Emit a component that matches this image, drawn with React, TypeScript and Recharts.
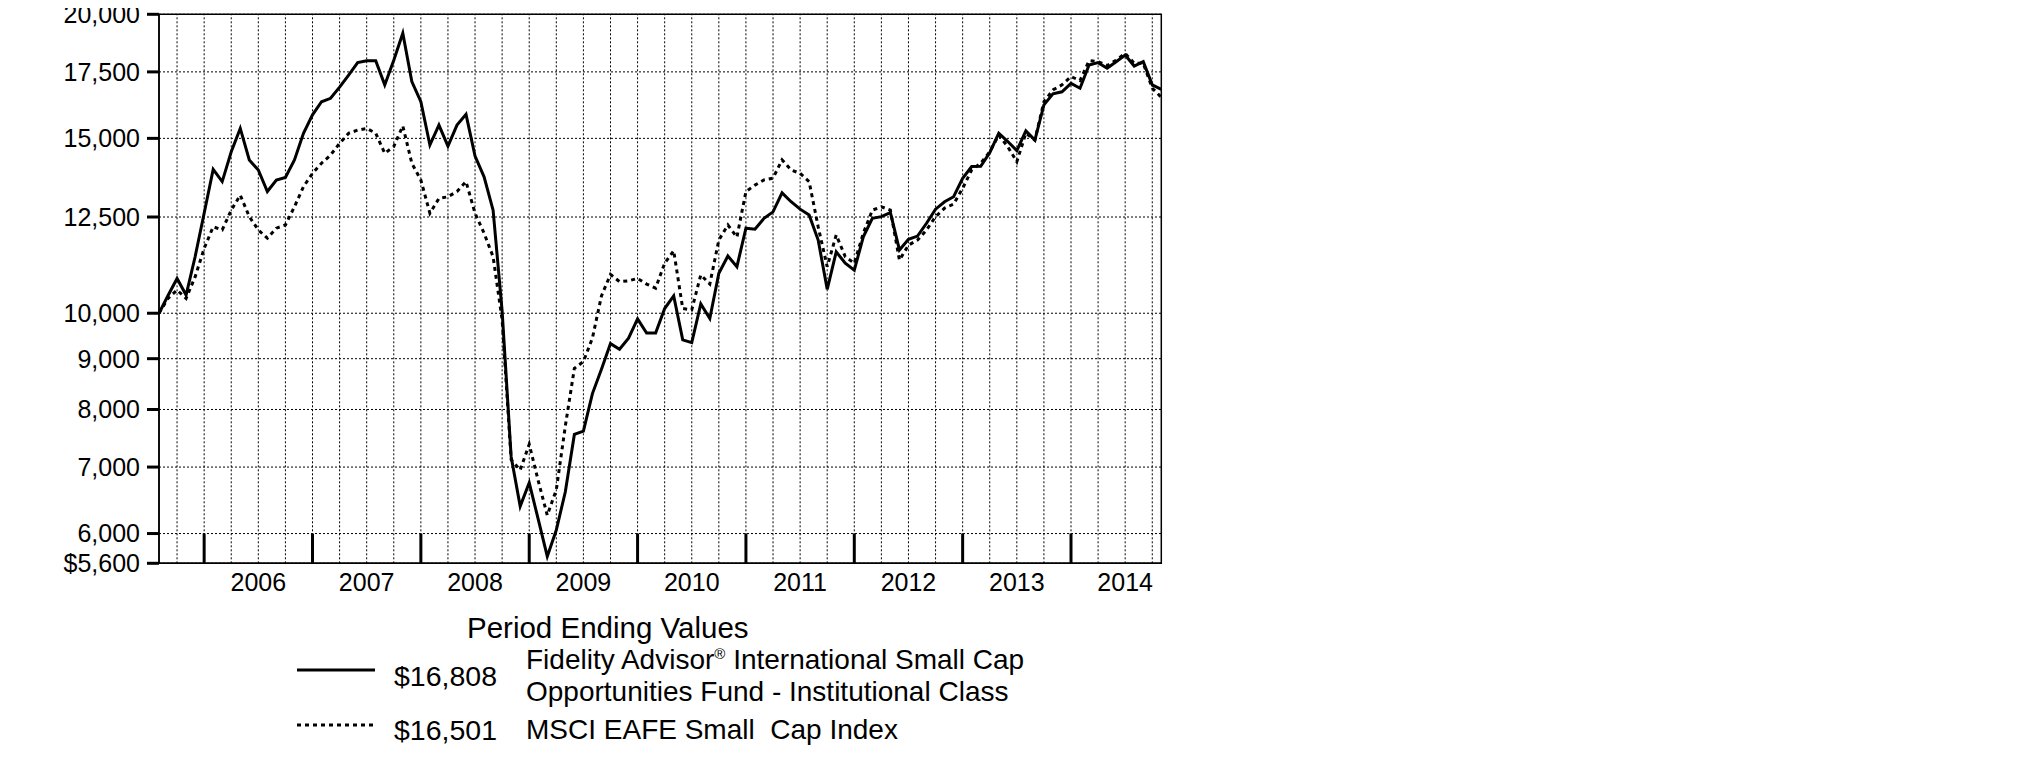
import React from "react"
import { CartesianGrid, Line, LineChart, ReferenceArea, ReferenceLine, XAxis, YAxis } from "recharts"

// monthly values, Jul 2005 (start, $10,000) through Oct 2014
const fundValues = [
  10000, 10420, 10840, 10430, 11400, 12610, 13960, 13570, 14540, 15350,
  14270, 13940, 13260, 13620, 13700, 14270, 15180, 15840, 16330, 16460,
  16890, 17370, 17880, 17960, 17960, 16980, 17980, 19140, 17110, 16330,
  14770, 15470, 14730, 15470, 15860, 14400, 13720, 12700, 10050, 7170,
  6390, 6750, 6200, 5690, 6050, 6610, 7550, 7610, 8300, 8780,
  9320, 9200, 9440, 9870, 9550, 9550, 10110, 10410, 9400, 9340,
  10220, 9880, 10970, 11420, 11140, 12180, 12150, 12460, 12650, 13220,
  12950, 12730, 12560, 11850, 10570, 11530, 11230, 11050, 11940, 12460,
  12510, 12630, 11580, 11870, 11960, 12320, 12730, 12950, 13100, 13670,
  14050, 14060, 14510, 15180, 14890, 14580, 15260, 14940, 16210, 16630,
  16710, 17040, 16850, 17780, 17880, 17650, 17920, 18200, 17740, 17920,
  16980, 16808,
]

const indexValues = [
  10000, 10350, 10550, 10350, 10880, 11620, 12220, 12130, 12700, 13150,
  12510, 12130, 11900, 12180, 12270, 12800, 13410, 13830, 14160, 14430,
  14830, 15180, 15290, 15350, 15180, 14490, 14720, 15440, 14160, 13620,
  12610, 13050, 13100, 13260, 13570, 12610, 12040, 11400, 9850, 7120,
  6950, 7380, 6780, 6260, 6640, 7700, 8800, 8940, 9440, 10410,
  10940, 10760, 10780, 10840, 10700, 10600, 11230, 11560, 10110, 10080,
  10930, 10700, 11850, 12270, 11930, 13260, 13460, 13620, 13680, 14270,
  13940, 13830, 13570, 12220, 11140, 11990, 11400, 11230, 12040, 12700,
  12800, 12700, 11310, 11710, 11850, 12130, 12510, 12760, 12880, 13360,
  13940, 14160, 14540, 15120, 14710, 14210, 15180, 14940, 16330, 16780,
  16980, 17310, 17150, 17960, 17920, 17760, 17980, 18270, 17850, 17850,
  16850, 16501,
]

const yTicks = [5600, 6000, 7000, 8000, 9000, 10000, 12500, 15000, 17500, 20000]
const quarterEnds = [2, 5, 8, 11, 14, 17, 20, 23, 26, 29, 32, 35, 38, 41, 44, 47, 50, 53, 56, 59, 62, 65, 68, 71, 74, 77, 80, 83, 86, 89, 92, 95, 98, 101, 104, 107, 110]
const yearEnds = [5, 17, 29, 41, 53, 65, 77, 89, 101]
const yearMids = [11, 23, 35, 47, 59, 71, 83, 95, 107]
const yearLabels = ["2006", "2007", "2008", "2009", "2010", "2011", "2012", "2013", "2014"]

const legendRows = [
  { value: "$16,808", name: ["Fidelity Advisor\u00ae International Small Cap", "Opportunities Fund - Institutional Class"], dash: undefined },
  { value: "$16,501", name: ["MSCI EAFE Small  Cap Index"], dash: "4 4" },
]

const data = fundValues.map((v, i) => ({ m: i, fund: v, index: indexValues[i] }))

const fmtY = (v: number) => (v === 5600 ? "$5,600" : v.toLocaleString("en-US"))
const fmtX = (v: number) => yearLabels[yearMids.indexOf(v)]

function Name({ text }: { text: string }) {
  const parts = text.split("\u00ae")
  if (parts.length === 1) return <>{text}</>
  return (
    <>
      {parts[0]}
      <span style={{ fontSize: 15, position: "relative", top: -10 }}>{"\u00ae"}</span>
      {parts[1]}
    </>
  )
}

export default function App() {
  const font = "'Liberation Sans', Arial, sans-serif"
  return (
    <div style={{ position: "relative", top: -8, left: -8, width: 2025, height: 773, fontFamily: font, background: "#fff" }}>
      <style>{".recharts-surface { overflow: visible; }"}</style>
      <LineChart width={1200} height={620} data={data} margin={{ top: 14.3, right: 38.7, bottom: 16.7, left: 0 }}>
        <CartesianGrid vertical={false} stroke="#000" strokeDasharray="2 2" strokeWidth={1} />
        {quarterEnds.map((q) => (
          <ReferenceLine key={`q-${q}`} x={q} stroke="#000" strokeDasharray="2 2" strokeWidth={1} />
        ))}
        <XAxis
          dataKey="m"
          type="number"
          domain={[0, 111]}
          ticks={yearMids}
          tickFormatter={fmtX}
          tickLine={false}
          axisLine={{ stroke: "#000", strokeWidth: 1.5 }}
          tick={{ fill: "#000", fontSize: 25 }}
          tickMargin={4}
          height={40}
          interval={0}
        />
        <YAxis
          scale="log"
          domain={[5600, 20000]}
          allowDataOverflow
          ticks={yTicks}
          tickFormatter={fmtY}
          width={159}
          tickSize={12}
          tickMargin={7}
          tickLine={{ stroke: "#000", strokeWidth: 3 }}
          axisLine={{ stroke: "#000", strokeWidth: 1.5 }}
          tick={{ fill: "#000", fontSize: 25 }}
          interval={0}
        />
        <ReferenceArea x1={0} x2={111} y1={5600} y2={20000} fill="none" stroke="#000" strokeWidth={1.5} />
        {yearEnds.map((b) => (
          <ReferenceLine
            key={`y-${b}`}
            segment={[{ x: b, y: 5600 }, { x: b, y: 6000 }]}
            stroke="#000"
            strokeWidth={3}
          />
        ))}
        <Line type="linear" dataKey="index" stroke="#000" strokeWidth={3} strokeDasharray="4 4" dot={false} isAnimationActive={false} />
        <Line type="linear" dataKey="fund" stroke="#000" strokeWidth={3} dot={false} isAnimationActive={false} />
      </LineChart>

      <div style={{ position: "absolute", left: 467, top: 613, fontSize: 29.5, lineHeight: "29.5px", whiteSpace: "pre" }}>
        Period Ending Values
      </div>
      {legendRows.map((row, r) => {
        const top = r === 0 ? 646 : 716
        const mid = r === 0 ? 676 : 730
        return (
          <React.Fragment key={row.value}>
            <svg style={{ position: "absolute", left: 297, top: mid - 8 - (r === 0 ? 6 : 5) }} width={80} height={16}>
              <line x1={0} x2={78} y1={8} y2={8} stroke="#000" strokeWidth={3} strokeDasharray={row.dash} />
            </svg>
            <div style={{ position: "absolute", left: 394, top: mid - 14, fontSize: 28.5, lineHeight: "28px" }}>{row.value}</div>
            {row.name.map((line, k) => (
              <div
                key={line}
                style={{ position: "absolute", left: 526, top: top + k * 32, fontSize: 28, lineHeight: "28px", whiteSpace: "pre" }}
              >
                <Name text={line} />
              </div>
            ))}
          </React.Fragment>
        )
      })}
    </div>
  )
}
